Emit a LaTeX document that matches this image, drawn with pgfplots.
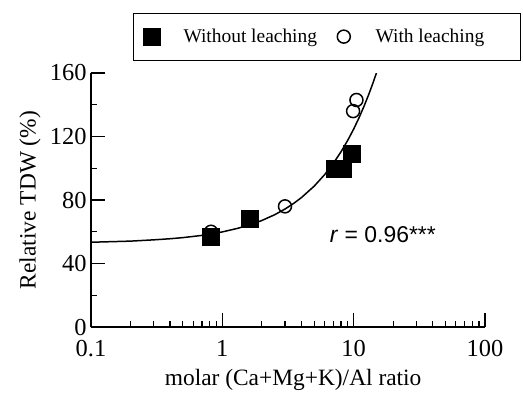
\documentclass[border=0pt]{standalone}
\usepackage{pgfplots}
\pgfplotsset{compat=1.18}
\usepackage{fontspec}
\setmainfont{Liberation Serif}
\setsansfont{Liberation Sans}
\begin{document}
\begin{tikzpicture}[x=1bp,y=1bp]
\useasboundingbox (0,0) rectangle (523,401);
\begin{axis}[
  at={(91bp,74bp)}, anchor=south west,
  scale only axis, width=394bp, height=254bp,
  xmode=log, log basis x=10,
  xmin=0.1, xmax=100, ymin=0, ymax=160,
  axis x line*=bottom, axis y line*=left,
  axis line style={line width=1.6pt, -},
  xtick={0.1,1,10,100}, xticklabels={0.1,1,10,100},
  minor xtick={0.2,0.3,0.4,0.5,0.6,0.7,0.8,0.9,2,3,4,5,6,7,8,9,20,30,40,50,60,70,80,90},
  ytick={0,40,80,120,160}, minor ytick={20,60,100,140},
  tick align=inside,
  major tick length=14bp, minor tick length=6bp,
  every tick/.style={line width=1.2pt, black},
  /pgf/number format/assume math mode=true,
  tick label style={font=\fontsize{24.5}{28}\selectfont},
  xticklabel style={yshift=-10bp},
  yticklabel style={xshift=-1bp},
  label style={font=\fontsize{23.5}{28}\selectfont},
  xlabel={molar (Ca+Mg+K)/Al ratio},
  ylabel={Relative TDW (\%)},
  xlabel style={at={(axis description cs:0.513,-0.232)}, anchor=base},
  ylabel style={at={(axis description cs:-0.155,0.5)}, anchor=center},
  legend columns=2,
  legend image code/.code={\draw[#1] plot coordinates {(0bp,0bp)}; \path (-10bp,0bp) (29bp,0bp);},
  legend style={at={(1.091,1.238)}, anchor=north east, draw=black, line width=1.2pt,
    font=\fontsize{19.5}{22}\selectfont, inner xsep=8bp, inner ysep=14bp,
    /tikz/every even column/.append style={column sep=14bp}},
]
\addplot[only marks, mark=square*, mark size=8.5bp, black] coordinates {
  (0.82,57) (1.62,68) (7.2,100) (8.2,100) (9.6,109)
};
\addlegendentry{Without leaching}
\addplot[only marks, mark=o, mark size=6.5bp, black, line width=1.5pt] coordinates {
  (0.82,60) (3.0,76) (9.9,136) (10.5,143)
};
\addlegendentry{With leaching\hspace*{26bp}}
\addplot[line width=1.5pt, black, forget plot] coordinates {
  (0.1,53.4) (0.15,53.8) (0.2,54.1) (0.3,54.9) (0.4,55.6) (0.5,56.3) (0.7,57.7)
  (1,59.9) (1.3,62.1) (1.6,64.2) (2,67.1) (2.5,70.7) (3,74.3) (3.5,77.9) (4,81.5)
  (5,88.7) (6,95.9) (7,103.1) (8,110.3) (9,117.5) (10,124.7) (11,131.9) (12,139.1)
  (13,146.3) (14,153.5) (15,160.7)
};
\node[anchor=west, font=\sffamily\fontsize{23}{26}\selectfont] at (axis cs:6.2,58) {\textit{r} = 0.96***};
\end{axis}
\end{tikzpicture}
\end{document}
